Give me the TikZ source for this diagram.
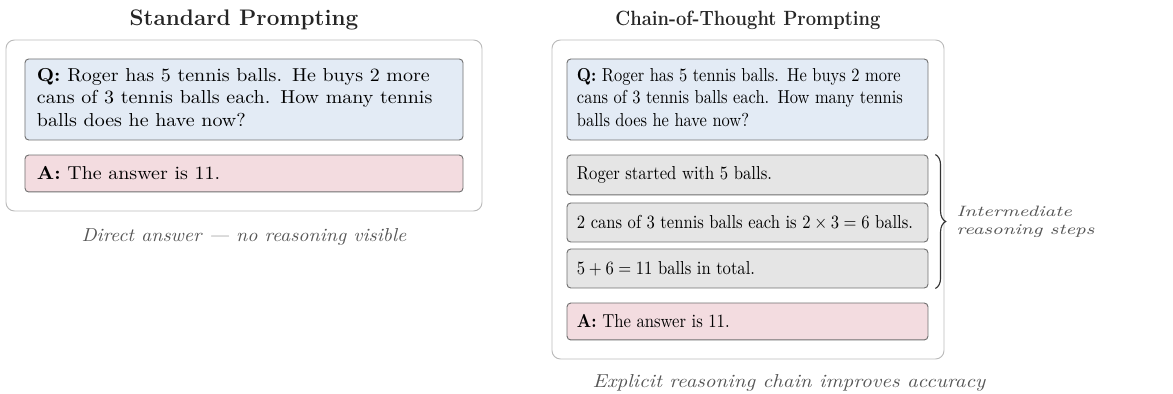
\documentclass[tikz,border=0pt]{standalone}
\usepackage{graphicx}
\usetikzlibrary{decorations.pathreplacing}
\definecolor{qfill}{HTML}{E3EBF5}
\definecolor{afill}{HTML}{F3DCE0}
\definecolor{sfill}{HTML}{E5E5E5}
\definecolor{boxline}{HTML}{707070}
\definecolor{panelline}{HTML}{BBBBBB}
\definecolor{captext}{HTML}{555555}
\newcommand{\hsc}[2]{\scalebox{#1}[1]{#2}}
\newcommand{\lines}[1]{\begin{tabular}{@{}l@{}}#1\end{tabular}}
\begin{document}
\begin{tikzpicture}[x=0.5333pt,y=-0.5333pt,
  panel/.style={draw=panelline,line width=0.5pt,rounded corners=4.5pt,fill=white},
  card/.style={draw=boxline,line width=0.5pt,rounded corners=2pt,anchor=center,
    inner ysep=0pt,align=left,font=\normalsize},
  lcard/.style={card,inner xsep=6.4pt,text width=220.8pt},
  rcard/.style={card,inner xsep=5.3pt,text width=181.9pt},
  qfillst/.style={fill=qfill},
  afillst/.style={fill=afill},
  sfillst/.style={fill=sfill},
  ptitle/.style={font=\large\bfseries,text=black!85},
  pcap/.style={font=\itshape,text=captext},
  bracelab/.style={font=\footnotesize\itshape,text=captext,align=left,anchor=west}]
\useasboundingbox (0,0) rectangle (1173,394);
% left panel
\node[ptitle] (t1) at (244,20) {Standard Prompting};
\draw[panel] (6,40) rectangle (482,211);
\node[lcard,qfillst,minimum height=43.2pt] (q1) at (244,99.5)
  {\hsc{1.065}{\lines{\textbf{Q:} Roger has 5 tennis balls. He buys 2 more\\cans of 3 tennis balls each. How many tennis\\balls does he have now?}}};
\node[lcard,afillst,minimum height=19.7pt] (a1) at (244,173.5)
  {\hsc{1.065}{\textbf{A:} The answer is 11.}};
\node[pcap] (c1) at (244,237) {\hsc{1.062}{Direct answer --- no reasoning visible}};
% right panel
\node[ptitle,font=\fontsize{11}{13}\bfseries] (t2) at (748,20) {\hsc{0.89}{Chain-of-Thought Prompting}};
\draw[panel] (552,40) rectangle (944,359);
\node[rcard,qfillst,minimum height=43.2pt] (q2) at (747.5,99.5)
  {\hsc{0.878}{\lines{\textbf{Q:} Roger has 5 tennis balls. He buys 2 more\\cans of 3 tennis balls each. How many tennis\\balls does he have now?}}};
\node[rcard,sfillst,minimum height=21.3pt] (s1) at (747.5,175)
  {\hsc{0.889}{Roger started with 5 balls.}};
\node[rcard,sfillst,minimum height=20.8pt] (s2) at (747.5,222.5)
  {\hsc{0.885}{2 cans of 3 tennis balls each is $2\times 3=6$ balls.}};
\node[rcard,sfillst,minimum height=20.8pt] (s3) at (747.5,268.5)
  {\hsc{0.885}{$5+6=11$ balls in total.}};
\node[rcard,afillst,minimum height=19.7pt] (a2) at (747.5,321.5)
  {\hsc{0.888}{\textbf{A:} The answer is 11.}};
\coordinate (bt) at ([xshift=3.7pt]s1.north east);
\coordinate (bb) at ([xshift=3.7pt]s3.south east);
\draw[decorate,decoration={brace,amplitude=5.5pt},line width=0.6pt,black!80] (bt) -- (bb);
\node[bracelab] (bl) at (950,222) {\hsc{1.3}{\lines{Intermediate\\reasoning steps}}};
\node[pcap] (c2) at (789,383) {\hsc{1.114}{Explicit reasoning chain improves accuracy}};
\end{tikzpicture}
\end{document}
